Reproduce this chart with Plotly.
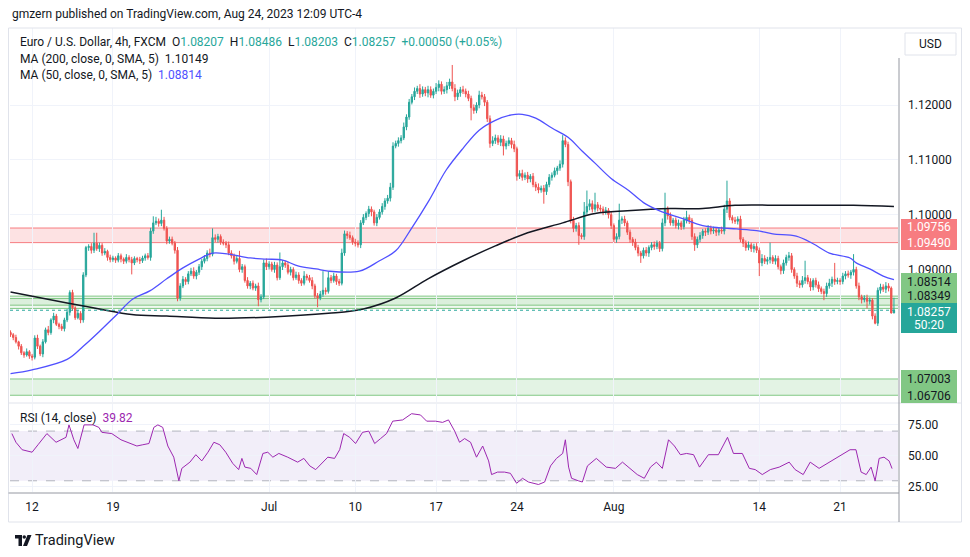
import plotly.graph_objects as go

# ---------------- data ----------------
first_bar = -8            # bar index of first visible 4h candle (0 = Mon Jun 12 01:00)
first_open = 1.0785

closes = [
    1.0781, 1.0776, 1.0768, 1.0760, 1.0748, 1.0744, 1.0750, 1.0742, 1.0740, 1.0775,
    1.0760, 1.0746, 1.0768, 1.0790, 1.0785, 1.0808, 1.0815, 1.0800, 1.0796, 1.0792,
    1.0808, 1.0822, 1.0858, 1.0830, 1.0812, 1.0820, 1.0808, 1.0890, 1.0940, 1.0942,
    1.0935, 1.0948, 1.0938, 1.0944, 1.0930, 1.0933, 1.0922, 1.0918, 1.0921, 1.0917,
    1.0925, 1.0919, 1.0915, 1.0922, 1.0918, 1.0912, 1.0920, 1.0918, 1.0916, 1.0921,
    1.0925, 1.0922, 1.0970, 1.0985, 1.0988, 1.0984, 1.0990, 1.0975, 1.0952, 1.0955,
    1.0948, 1.0935, 1.0848, 1.0870, 1.0882, 1.0878, 1.0892, 1.0897, 1.0888, 1.0895,
    1.0905, 1.0915, 1.0920, 1.0930, 1.0928, 1.0958, 1.0955, 1.0960, 1.0950, 1.0948,
    1.0945, 1.0930, 1.0925, 1.0915, 1.0920, 1.0900, 1.0905, 1.0880, 1.0870, 1.0875,
    1.0866, 1.0870, 1.0845, 1.0850, 1.0912, 1.0905, 1.0910, 1.0900, 1.0908, 1.0885,
    1.0905, 1.0912, 1.0908, 1.0895, 1.0900, 1.0885, 1.0890, 1.0880, 1.0875, 1.0888,
    1.0885, 1.0880, 1.0870, 1.0852, 1.0848, 1.0855, 1.0862, 1.0860, 1.0885, 1.0880,
    1.0888, 1.0878, 1.0875, 1.0930, 1.0965, 1.0962, 1.0958, 1.0950, 1.0948, 1.0945,
    1.0985, 1.0995, 1.1002, 1.1010, 1.1005, 1.0985, 1.0995, 1.1005, 1.1015, 1.1025,
    1.1030, 1.1050, 1.1125, 1.1130, 1.1135, 1.1140, 1.1160, 1.1178, 1.1205, 1.1215,
    1.1225, 1.1230, 1.1220, 1.1228, 1.1222, 1.1228, 1.1218, 1.1225, 1.1232, 1.1238,
    1.1225, 1.1228, 1.1235, 1.1242, 1.1230, 1.1215, 1.1222, 1.1228, 1.1225, 1.1220,
    1.1212, 1.1195, 1.1190, 1.1200, 1.1218, 1.1215, 1.1205, 1.1175, 1.1130, 1.1135,
    1.1140, 1.1132, 1.1138, 1.1125, 1.1130, 1.1135, 1.1128, 1.1120, 1.1070, 1.1075,
    1.1068, 1.1072, 1.1065, 1.1070, 1.1055, 1.1050, 1.1045, 1.1048, 1.1042, 1.1055,
    1.1068, 1.1072, 1.1080, 1.1085, 1.1092, 1.1135, 1.1128, 1.1060, 1.0990, 1.0975,
    1.0980, 1.0962, 1.0960, 1.1005, 1.1015, 1.1020, 1.1010, 1.1018, 1.1012, 1.1010,
    1.1005, 1.1008, 1.1000, 1.0980, 1.0955, 1.0960, 1.0990, 1.0992, 1.0985, 1.0968,
    1.0955, 1.0950, 1.0940, 1.0930, 1.0925, 1.0935, 1.0930, 1.0940, 1.0945, 1.0942,
    1.0948, 1.0938, 1.0985, 1.1010, 1.0998, 1.0985, 1.0990, 1.0980, 1.0985, 1.0978,
    1.0990, 1.0995, 1.0990, 1.0960, 1.0945, 1.0955, 1.0962, 1.0970, 1.0968, 1.0975,
    1.0970, 1.0972, 1.0968, 1.0972, 1.0970, 1.1010, 1.1025, 1.0995, 1.0990, 1.0988,
    1.0992, 1.0955, 1.0948, 1.0940, 1.0945, 1.0938, 1.0942, 1.0935, 1.0912, 1.0920,
    1.0915, 1.0918, 1.0922, 1.0915, 1.0920, 1.0905, 1.0898, 1.0912, 1.0922, 1.0925,
    1.0900, 1.0888, 1.0875, 1.0872, 1.0880, 1.0885, 1.0878, 1.0868, 1.0880, 1.0872,
    1.0865, 1.0860, 1.0856, 1.0870, 1.0875, 1.0882, 1.0878, 1.0880, 1.0878, 1.0888,
    1.0892, 1.0890, 1.0895, 1.0900, 1.0870, 1.0850, 1.0845, 1.0848, 1.0842, 1.0844,
    1.0815, 1.0802, 1.0862, 1.0868, 1.0864, 1.0870, 1.0866, 1.08207, 1.08257,
]

# upper / lower wick lengths in pips, per candle
up_wick_pips = [
    4, 3, 5, 2, 4, 3, 6, 3, 4, 5,
    6, 3, 5, 4, 7, 3, 6, 4, 3, 5,
    4, 6, 4, 5, 3, 6, 4, 5, 3, 4,
    6, 19, 19, 5, 4, 6, 3, 5, 4, 3,
    5, 4, 3, 6, 4, 5, 4, 3, 5, 4,
    4, 5, 6, 12, 8, 5, 19, 6, 4, 5,
    5, 4, 6, 5, 6, 4, 5, 6, 7, 4,
    5, 4, 6, 5, 8, 17, 6, 5, 4, 5,
    4, 6, 5, 4, 6, 14, 5, 4, 6, 4,
    5, 4, 6, 5, 6, 8, 5, 4, 6, 5,
    26, 5, 4, 6, 5, 4, 6, 5, 4, 9,
    4, 5, 6, 4, 5, 6, 35, 5, 12, 5,
    6, 4, 5, 8, 6, 5, 7, 4, 6, 5,
    5, 6, 4, 6, 5, 4, 6, 5, 6, 5,
    6, 8, 7, 5, 6, 5, 8, 5, 6, 5,
    7, 5, 8, 6, 5, 7, 6, 5, 8, 7,
    5, 6, 7, 6, 31, 8, 6, 5, 7, 5,
    6, 5, 6, 5, 8, 6, 5, 4, 6, 8,
    6, 5, 7, 6, 5, 6, 5, 7, 4, 6,
    7, 5, 6, 4, 6, 5, 7, 5, 6, 5,
    6, 5, 6, 4, 7, 10, 6, 5, 4, 6,
    5, 6, 4, 18, 29, 8, 6, 22, 5, 6,
    5, 6, 4, 5, 4, 6, 30, 5, 6, 4,
    5, 4, 6, 5, 4, 5, 6, 4, 5, 6,
    5, 4, 8, 30, 5, 6, 4, 5, 6, 4,
    6, 12, 5, 4, 6, 5, 6, 4, 5, 6,
    5, 6, 4, 5, 6, 8, 37, 5, 4, 6,
    5, 6, 4, 5, 6, 4, 5, 6, 5, 8,
    6, 5, 27, 4, 6, 5, 4, 6, 5, 7,
    5, 4, 6, 5, 8, 31, 5, 6, 4, 5,
    6, 4, 5, 6, 8, 5, 30, 5, 4, 6,
    5, 6, 4, 28, 5, 6, 4, 5, 6, 5,
    4, 5, 5, 6, 5, 7, 5, 3, 22.9,
]
down_wick_pips = [
    4, 5, 3, 6, 4, 5, 3, 5, 6, 4,
    5, 4, 6, 3, 5, 4, 6, 3, 5, 4,
    5, 4, 6, 5, 4, 3, 6, 5, 4, 6,
    6, 5, 4, 6, 5, 4, 6, 5, 4, 5,
    4, 6, 5, 4, 5, 21, 4, 5, 6, 4,
    5, 4, 6, 5, 4, 6, 5, 4, 6, 5,
    4, 6, 6, 5, 4, 6, 5, 4, 5, 6,
    5, 6, 4, 5, 6, 4, 5, 6, 5, 4,
    6, 4, 5, 6, 4, 5, 6, 4, 5, 6,
    4, 5, 12, 5, 4, 6, 5, 4, 6, 5,
    4, 6, 5, 4, 6, 5, 4, 6, 5, 4,
    5, 4, 6, 5, 17, 4, 5, 6, 4, 5,
    4, 6, 5, 4, 5, 6, 4, 5, 6, 5,
    6, 4, 5, 6, 8, 5, 6, 4, 5, 6,
    5, 6, 5, 4, 6, 5, 4, 6, 5, 4,
    6, 5, 7, 5, 6, 8, 5, 6, 5, 7,
    6, 5, 7, 6, 5, 8, 6, 7, 5, 6,
    5, 23, 6, 5, 6, 5, 7, 6, 8, 5,
    6, 5, 7, 17, 6, 5, 7, 6, 8, 5,
    6, 5, 7, 6, 5, 7, 6, 5, 22, 6,
    5, 6, 4, 7, 5, 6, 5, 8, 6, 7,
    6, 17, 5, 6, 5, 7, 6, 5, 6, 5,
    6, 5, 7, 6, 5, 6, 5, 7, 6, 5,
    6, 7, 5, 6, 13, 5, 6, 7, 5, 6,
    5, 6, 5, 6, 7, 5, 6, 5, 7, 6,
    5, 6, 7, 6, 11, 6, 5, 6, 7, 5,
    6, 5, 7, 6, 5, 6, 7, 5, 6, 5,
    6, 5, 7, 6, 5, 6, 7, 5, 24, 6,
    5, 6, 7, 5, 6, 5, 7, 6, 5, 6,
    6, 5, 7, 6, 5, 6, 5, 7, 6, 5,
    6, 5, 12, 6, 5, 7, 6, 5, 6, 5,
    6, 5, 7, 6, 5, 6, 7, 5, 13, 6,
    6, 2, 5, 6, 5, 7, 6, 1, 0.4,
]

ma50_bar = [-8, 0, 13, 19, 25, 31.5, 37.4, 43.7, 50, 56,
            62, 67, 73, 81, 87, 93, 99, 105.5, 110, 121.5,
            129, 135, 141, 147.4, 153.7, 160, 166, 172, 178, 182,
            187, 193, 199, 204, 209, 215, 221.5, 227, 233, 240.7,
            249, 255.5, 261.5, 269, 275, 283.7, 290, 296, 303.7, 306,
            311, 316, 320]
ma50_val = [1.0710, 1.0717, 1.0736, 1.0760, 1.0787, 1.0818, 1.0846, 1.0861, 1.0883, 1.0903,
            1.0919, 1.0930, 1.0928, 1.0921, 1.0919, 1.0917, 1.0906, 1.0901, 1.0897, 1.0897,
            1.0916, 1.0934, 1.0976, 1.1026, 1.1081, 1.1121, 1.1154, 1.1172, 1.1182, 1.1183,
            1.1176, 1.1158, 1.1141, 1.1117, 1.1094, 1.1066, 1.1044, 1.1022, 1.1007, 1.0994,
            1.0980, 1.0976, 1.0974, 1.0971, 1.0965, 1.0961, 1.0947, 1.0930, 1.0921, 1.0912,
            1.0901, 1.0888, 1.08814]

ma200_bar = [-8, 13, 25, 37, 50, 68, 87, 110, 123, 135, 147, 160,
             172, 184, 197, 209, 221, 237, 249, 261, 280, 305, 320]
ma200_val = [1.0859, 1.0839, 1.0828, 1.0818, 1.0815, 1.0811, 1.0813, 1.0820, 1.0828, 1.0848, 1.0883, 1.0916,
             1.0943, 1.0967, 1.0985, 1.1002, 1.1007, 1.1011, 1.1011, 1.1017, 1.1017, 1.1017, 1.10149]

rsi_bar = [-7.5, -6.0, -3.7, 0, 2.2, 5.5, 8.9, 12.6, 13.7, 15.5,
           17.0, 19.3, 22.6, 24.8, 25.9, 29.6, 33.0, 36.3, 38.9, 41.1,
           43.4, 45.2, 46.7, 48.5, 50.4, 52.6, 54.5, 55.6, 58.6, 60.8,
           63.0, 65.3, 67.5, 69.7, 71.9, 74.5, 76.7, 77.9, 79.0, 81.2,
           83.4, 85.7, 87.5, 89.4, 91.6, 94.9, 98.6, 100.9, 103.1, 105.3,
           107.5, 109.8, 112.3, 114.2, 115.7, 117.9, 120.1, 122.7, 125.0, 127.2,
           129.4, 131.6, 133.9, 137.6, 140.9, 144.2, 146.5, 149.8, 152.4, 154.6,
           156.9, 158.7, 160.6, 162.8, 165.0, 167.3, 169.5, 170.6, 172.8, 175.4,
           177.6, 179.9, 182.1, 184.3, 188.0, 190.3, 192.5, 194.7, 197.0, 198.0,
           199.2, 200.3, 202.8, 204.3, 206.2, 209.5, 213.2, 216.6, 219.2, 222.5,
           224.7, 227.3, 229.6, 231.8, 234.0, 236.3, 238.5, 240.7, 243.0, 245.6,
           247.8, 251.1, 254.8, 258.2, 260.4, 263.7, 266.3, 268.5, 271.1, 274.1,
           277.4, 281.1, 283.3, 286.3, 288.9, 292.2, 295.9, 299.2, 301.5, 303.7,
           305.9, 307.8, 309.7, 311.5, 313.0, 314.5, 316.3, 318.2, 319.3]
rsi_val = [68, 61, 55, 53, 59, 68, 61, 65, 75, 63,
           56, 75, 75, 73, 69, 68, 63, 60, 58, 59,
           60, 73, 75, 73, 58, 49, 30, 40, 45, 51,
           46, 53, 61, 59, 53, 44, 39, 48, 41, 40,
           35, 52, 53, 49, 52, 49, 45, 48, 42, 39,
           44, 49, 48, 55, 68, 65, 60, 69, 70, 60,
           64, 68, 78, 79, 84, 83, 78, 78, 77, 79,
           70, 61, 64, 61, 49, 58, 46, 35, 37, 37,
           36, 28, 32, 29, 27, 29, 42, 48, 52, 63,
           41, 32, 30, 29, 42, 48, 41, 40, 45, 39,
           35, 32, 41, 45, 40, 63, 58, 51, 52, 51,
           41, 51, 51, 65, 52, 52, 40, 39, 35, 39,
           41, 45, 39, 35, 45, 40, 45, 49, 52, 55,
           55, 37, 35, 41, 30, 48, 49, 46, 39.82]

tick_bars = [0, 30, 88, 120, 150, 180, 216, 270, 300]
tick_text = ["12", "19", "Jul", "10", "17", "24", "Aug", "14", "21"]
price_ticks = [1.09, 1.10, 1.11, 1.12]
rsi_ticks = [25, 50, 75]

red_zone = [1.09490, 1.09756]
green_zone_a = [1.08349, 1.08514]
green_zone_b = [1.0829, 1.0847]
green_zone_low = [1.06706, 1.07003]
last_price = 1.08257

# ---------------- build candles ----------------
n = len(closes)
assert len(up_wick_pips) == n and len(down_wick_pips) == n, (n, len(up_wick_pips), len(down_wick_pips))
bars = list(range(first_bar, first_bar + n))
opens = [first_open] + closes[:-1]
highs = [max(o, c) + u / 10000 for o, c, u in zip(opens, closes, up_wick_pips)]
lows = [min(o, c) - d / 10000 for o, c, d in zip(opens, closes, down_wick_pips)]

UP = "#26a69a"
DN = "#ef5350"
TXT = "#131722"
GRID = "#f0f3fa"
RSI_C = "#9c27b0"
FONT = "Roboto"

# page has an 8px body margin: figure occupies screen x 8..962, y 8..549
OFF = 8
W, H = 954, 541
PLOT_X0, PLOT_X1, PLOT_Y0, PLOT_Y1 = 10, 898, 28, 492   # screen pixels of plot area
L, R = PLOT_X0 - OFF, W - (PLOT_X1 - OFF)
T, B = PLOT_Y0 - OFF, H - (PLOT_Y1 - OFF)
PW, PH = PLOT_X1 - PLOT_X0, PLOT_Y1 - PLOT_Y0


def px(x):
    return (x - PLOT_X0) / PW


def py(y):
    return (PLOT_Y1 - y) / PH


XR = [-8.2, 321.5]
Y_RANGE = [1.065833, 1.134043]
RSI_RANGE = [20.97, 91.94]

fig = go.Figure()

fig.add_trace(go.Candlestick(
    x=bars, open=opens, high=highs, low=lows, close=closes,
    xaxis="x", yaxis="y",
    increasing=dict(line=dict(color=UP, width=1), fillcolor=UP),
    decreasing=dict(line=dict(color=DN, width=1), fillcolor=DN),
    whiskerwidth=0, showlegend=False, hoverinfo="skip",
))
fig.add_trace(go.Scatter(x=ma200_bar, y=ma200_val, mode="lines", xaxis="x", yaxis="y",
                         line=dict(color="#131722", width=1.5, shape="spline"), showlegend=False, hoverinfo="skip"))
fig.add_trace(go.Scatter(x=ma50_bar, y=ma50_val, mode="lines", xaxis="x", yaxis="y",
                         line=dict(color="#5050ff", width=1.3, shape="spline"), showlegend=False, hoverinfo="skip"))
fig.add_trace(go.Scatter(x=rsi_bar, y=rsi_val, mode="lines", xaxis="x2", yaxis="y2",
                         line=dict(color=RSI_C, width=1), showlegend=False, hoverinfo="skip"))

shapes = []


def zone(lo, hi, fill, edge):
    shapes.append(dict(type="rect", xref="paper", yref="y", x0=0, x1=1, y0=lo, y1=hi,
                       fillcolor=fill, line=dict(width=0), layer="below"))
    for v in (lo, hi):
        shapes.append(dict(type="line", xref="paper", yref="y", x0=0, x1=1, y0=v, y1=v,
                           line=dict(color=edge, width=1), layer="below"))


zone(red_zone[0], red_zone[1], "rgba(247,124,128,0.22)", "#f77c80")
zone(green_zone_a[0], green_zone_a[1], "rgba(129,199,132,0.18)", "#81c784")
zone(green_zone_b[0], green_zone_b[1], "rgba(129,199,132,0.12)", "#81c784")
zone(green_zone_low[0], green_zone_low[1], "rgba(129,199,132,0.22)", "#81c784")

shapes.append(dict(type="line", xref="paper", yref="y", x0=0, x1=1, y0=last_price, y1=last_price,
                   line=dict(color=UP, width=1, dash="dot")))

shapes.append(dict(type="rect", xref="paper", yref="y2", x0=0, x1=1, y0=30, y1=70,
                   fillcolor="rgba(126,87,194,0.10)", line=dict(width=0), layer="below"))
for v in (30, 70):
    shapes.append(dict(type="line", xref="paper", yref="y2", x0=0, x1=1, y0=v, y1=v,
                       line=dict(color="#b2b5be", width=1, dash="dash"), layer="below"))

# frame and separators
shapes.append(dict(type="rect", xref="paper", yref="paper", x0=px(8.5), x1=px(961.5), y0=py(522), y1=py(28),
                   line=dict(color="#e0e3eb", width=1), fillcolor="rgba(0,0,0,0)", layer="above"))
shapes.append(dict(type="line", xref="paper", yref="paper", x0=px(8.5), x1=px(961.5), y0=py(403), y1=py(403),
                   line=dict(color="#e0e3eb", width=1)))
shapes.append(dict(type="line", xref="paper", yref="paper", x0=px(899), x1=px(899), y0=py(522), y1=py(58),
                   line=dict(color="#9598a1", width=1)))
shapes.append(dict(type="line", xref="paper", yref="paper", x0=px(8.5), x1=px(899), y0=py(493), y1=py(493),
                   line=dict(color="#9598a1", width=1)))


def box(y0, y1, color):
    shapes.append(dict(type="rect", xref="paper", yref="paper", x0=px(901), x1=px(957),
                       y0=py(y1), y1=py(y0), fillcolor=color, line=dict(width=0), layer="above"))


box(219, 250, "#f77c80")
box(273, 303, "#81c784")
box(303, 333, UP)
box(370, 403, "#81c784")
shapes.append(dict(type="rect", xref="paper", yref="paper", x0=px(905), x1=px(956), y0=py(55), y1=py(33),
                   line=dict(color="#e0e3eb", width=1), fillcolor="white", layer="above"))

# TradingView logo glyph
logo = "M {a} {b} L {c} {b} L {c} {d} L {e} {d} L {e} {f} L {g} {f} L {g} {d} L {a} {d} Z".format(
    a=px(15), b=py(535), c=px(22), d=py(538.5), e=px(22), f=py(546), g=px(18.5))
shapes.append(dict(type="path", xref="paper", yref="paper", path=logo, fillcolor=TXT, line=dict(width=0)))
shapes.append(dict(type="circle", xref="paper", yref="paper", x0=px(22.5), x1=px(26), y0=py(538.8), y1=py(535.2),
                   fillcolor=TXT, line=dict(width=0)))
para = "M {a} {b} L {c} {b} L {d} {e} L {f} {e} Z".format(a=px(27.5), b=py(535), c=px(31.5), d=px(27), e=py(546), f=px(23))
shapes.append(dict(type="path", xref="paper", yref="paper", path=para, fillcolor=TXT, line=dict(width=0)))

ann = []


def text(x, y, s, size=12, color=TXT, anchor="left"):
    ann.append(dict(x=px(x), y=py(y), xref="paper", yref="paper", text=s, showarrow=False,
                    xanchor=anchor, yanchor="middle", font=dict(family=FONT, size=size, color=color)))


def span(s, c):
    return "<span style='color:%s'>%s</span>" % (c, s)


sp = "\u00a0\u00a0"
text(10, 14, "gmzern published on TradingView.com, Aug 24, 2023 12:09 UTC-4", 12)
text(18, 42, "Euro / U.S. Dollar, 4h, FXCM" + sp + "O" + span("1.08207", UP) + sp + "H" + span("1.08486", UP)
     + sp + "L" + span("1.08203", UP) + sp + "C" + span("1.08257", UP) + sp + span("+0.00050 (+0.05%)", UP), 12)
text(18, 59, "MA (200, close, 0, SMA, 5)" + sp + span("1.10149", "#131722"), 12)
text(18, 75, "MA (50, close, 0, SMA, 5)" + sp + span("1.08814", "#5050ff"), 12)
text(18, 418, "RSI (14, close)" + sp + span("39.82", RSI_C), 12)
text(930, 44, "USD", 12, anchor="center")
text(929, 227, "1.09756", 12, "white", "center")
text(929, 243, "1.09490", 12, "white", "center")
text(929, 282, "1.08514", 12, TXT, "center")
text(929, 296, "1.08349", 12, TXT, "center")
text(929, 312, "1.08257", 12, "white", "center")
text(929, 325, "50:20", 12, "white", "center")
text(929, 379, "1.07003", 12, TXT, "center")
text(929, 396, "1.06706", 12, TXT, "center")
text(33, 540, "TradingView", 14.5)

fig.update_layout(
    width=W, height=H, margin=dict(l=L, r=R, t=T, b=B),
    paper_bgcolor="white", plot_bgcolor="white", showlegend=False, hovermode=False,
    font=dict(family=FONT, size=12, color=TXT),
    xaxis=dict(domain=[0, 1], anchor="y", range=XR, tickvals=tick_bars, ticktext=tick_text,
               showticklabels=False, showgrid=True, gridcolor=GRID, zeroline=False,
               rangeslider=dict(visible=False), showline=False, ticks=""),
    yaxis=dict(domain=[0.194, 1], anchor="x", range=Y_RANGE, side="right",
               tickvals=price_ticks, ticktext=["%.5f" % v for v in price_ticks],
               showgrid=True, gridcolor=GRID, zeroline=False, showline=False, ticks="",
               ticklabelstandoff=9, tickfont=dict(family=FONT, size=12, color=TXT)),
    xaxis2=dict(domain=[0, 1], anchor="y2", range=XR, tickvals=tick_bars, ticktext=tick_text,
                showgrid=True, gridcolor=GRID, zeroline=False, showline=False, ticks="",
                ticklabelstandoff=6, tickfont=dict(family=FONT, size=12, color=TXT)),
    yaxis2=dict(domain=[0, 0.19], anchor="x2", range=RSI_RANGE, side="right",
                tickvals=rsi_ticks, ticktext=["%.2f" % v for v in rsi_ticks],
                showgrid=True, gridcolor=GRID, zeroline=False, showline=False, ticks="",
                ticklabelstandoff=9, tickfont=dict(family=FONT, size=12, color=TXT)),
    shapes=shapes, annotations=ann,
)

fig.write_html("out.html")
